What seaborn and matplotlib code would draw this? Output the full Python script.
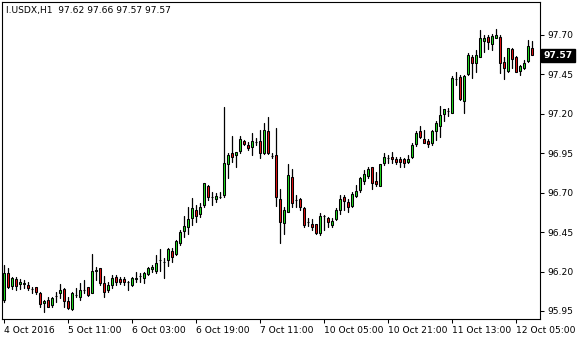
import numpy as np
import pandas as pd
import matplotlib
matplotlib.use("Agg")
import matplotlib.pyplot as plt
import matplotlib.transforms as mtransforms
import seaborn as sns

symbol = "I.USDX,H1"
header_values = [97.62, 97.66, 97.57, 97.57]

open_ = [96.020, 96.191, 96.108, 96.153, 96.121, 96.121, 96.115, 96.089, 96.102, 96.064,
         96.001, 96.020, 95.988, 96.045, 96.064, 96.089, 96.013, 95.963, 96.051, 96.039,
         96.083, 96.102, 96.064, 96.204, 96.223, 96.128, 96.083, 96.115, 96.166, 96.153,
         96.153, 96.134, 96.115, 96.153, 96.172, 96.159, 96.185, 96.216, 96.204, 96.273,
         96.261, 96.273, 96.330, 96.311, 96.381, 96.457, 96.483, 96.540, 96.590, 96.565,
         96.622, 96.743, 96.673, 96.660, 96.673, 96.686, 96.882, 96.952, 96.939, 96.965,
         97.028, 97.003, 96.990, 97.022, 97.028, 96.952, 97.091, 96.933, 96.939, 96.660,
         96.508, 96.578, 96.800, 96.654, 96.660, 96.603, 96.514, 96.502, 96.502, 96.445,
         96.552, 96.540, 96.495, 96.533, 96.590, 96.673, 96.641, 96.616, 96.679, 96.717,
         96.774, 96.806, 96.863, 96.774, 96.743, 96.888, 96.920, 96.926, 96.914, 96.914,
         96.914, 96.895, 96.926, 97.009, 97.091, 97.041, 97.028, 97.015, 97.091, 97.123,
         97.199, 97.218, 97.205, 97.421, 97.434, 97.282, 97.453, 97.561, 97.522, 97.561,
         97.662, 97.687, 97.643, 97.681, 97.687, 97.529, 97.472, 97.611, 97.561, 97.472,
         97.491, 97.535, 97.620]
high = [96.242, 96.223, 96.166, 96.166, 96.153, 96.147, 96.134, 96.102, 96.102, 96.070,
        96.020, 96.039, 96.039, 96.070, 96.121, 96.096, 96.039, 96.070, 96.096, 96.128,
        96.147, 96.102, 96.311, 96.229, 96.223, 96.172, 96.134, 96.178, 96.178, 96.166,
        96.166, 96.140, 96.166, 96.197, 96.191, 96.197, 96.229, 96.242, 96.305, 96.343,
        96.286, 96.349, 96.349, 96.400, 96.464, 96.552, 96.610, 96.667, 96.622, 96.635,
        96.762, 96.749, 96.705, 96.698, 96.705, 97.244, 96.952, 97.060, 96.958, 97.060,
        97.034, 97.022, 97.079, 97.047, 97.098, 97.142, 97.180, 96.952, 97.110, 96.724,
        96.610, 96.882, 96.850, 96.686, 96.667, 96.610, 96.540, 96.533, 96.502, 96.571,
        96.559, 96.546, 96.540, 96.603, 96.686, 96.686, 96.660, 96.705, 96.749, 96.800,
        96.844, 96.863, 96.863, 96.831, 96.882, 96.952, 96.939, 96.958, 96.926, 96.926,
        96.920, 96.939, 97.015, 97.091, 97.123, 97.098, 97.041, 97.098, 97.155, 97.250,
        97.231, 97.237, 97.440, 97.465, 97.446, 97.446, 97.586, 97.573, 97.605, 97.732,
        97.700, 97.700, 97.706, 97.738, 97.700, 97.561, 97.618, 97.618, 97.567, 97.510,
        97.542, 97.668, 97.660]
low = [96.007, 96.096, 96.089, 96.083, 96.089, 96.096, 96.083, 96.064, 96.058, 95.975,
       95.944, 95.975, 95.975, 96.007, 96.032, 95.975, 95.963, 95.956, 96.039, 96.020,
       96.064, 96.045, 96.064, 96.147, 96.115, 96.039, 96.070, 96.096, 96.115, 96.121,
       96.115, 96.083, 96.108, 96.134, 96.134, 96.128, 96.178, 96.197, 96.191, 96.204,
       96.159, 96.235, 96.261, 96.305, 96.369, 96.419, 96.438, 96.495, 96.514, 96.546,
       96.610, 96.654, 96.622, 96.641, 96.667, 96.673, 96.793, 96.895, 96.863, 96.952,
       97.003, 96.971, 96.939, 97.003, 96.920, 96.946, 96.946, 96.920, 96.616, 96.381,
       96.438, 96.578, 96.610, 96.610, 96.590, 96.483, 96.489, 96.464, 96.438, 96.432,
       96.464, 96.483, 96.483, 96.527, 96.565, 96.590, 96.578, 96.610, 96.673, 96.705,
       96.755, 96.793, 96.724, 96.743, 96.743, 96.876, 96.888, 96.888, 96.882, 96.863,
       96.863, 96.888, 96.920, 96.996, 97.047, 97.015, 96.990, 97.003, 97.034, 97.053,
       97.155, 97.186, 97.205, 97.383, 97.288, 97.205, 97.446, 97.427, 97.465, 97.561,
       97.592, 97.611, 97.605, 97.681, 97.459, 97.421, 97.465, 97.491, 97.465, 97.446,
       97.484, 97.529, 97.570]
close = [96.191, 96.102, 96.159, 96.108, 96.134, 96.128, 96.096, 96.089, 96.070, 95.994,
         96.013, 95.975, 96.032, 96.045, 96.083, 96.013, 95.969, 96.064, 96.051, 96.083,
         96.083, 96.051, 96.204, 96.210, 96.128, 96.070, 96.115, 96.159, 96.134, 96.134,
         96.134, 96.134, 96.159, 96.159, 96.172, 96.191, 96.223, 96.229, 96.254, 96.273,
         96.261, 96.343, 96.292, 96.394, 96.451, 96.489, 96.533, 96.603, 96.552, 96.610,
         96.762, 96.673, 96.673, 96.679, 96.673, 96.888, 96.939, 96.926, 96.958, 97.041,
         97.009, 96.984, 97.028, 97.022, 96.952, 97.098, 96.952, 96.933, 96.673, 96.514,
         96.590, 96.812, 96.635, 96.654, 96.610, 96.495, 96.514, 96.483, 96.445, 96.552,
         96.552, 96.514, 96.521, 96.590, 96.660, 96.648, 96.610, 96.692, 96.711, 96.793,
         96.819, 96.850, 96.762, 96.755, 96.882, 96.926, 96.920, 96.914, 96.895, 96.895,
         96.888, 96.914, 97.003, 97.079, 97.053, 97.015, 97.009, 97.091, 97.142, 97.193,
         97.231, 97.218, 97.427, 97.421, 97.294, 97.440, 97.573, 97.522, 97.573, 97.681,
         97.681, 97.656, 97.694, 97.700, 97.522, 97.491, 97.618, 97.548, 97.465, 97.503,
         97.522, 97.630, 97.570]

tick_labels = ["4 Oct 2016", "5 Oct 11:00", "6 Oct 03:00", "6 Oct 19:00", "7 Oct 11:00",
               "10 Oct 05:00", "10 Oct 21:00", "11 Oct 13:00", "12 Oct 05:00"]
tick_bars = [0, 16, 32, 48, 64, 80, 96, 112, 128]
price_ticks = [95.95, 96.20, 96.45, 96.70, 96.95, 97.20, 97.45, 97.70]
last_price = 97.57

bull_color = "#1fdc1f"
bear_color = "#e01010"

sns.set_style("white")
plt.rcParams["font.family"] = ["DejaVu Sans"]

n = len(close)
bars = np.arange(n)
df = pd.DataFrame({"bar": bars, "open": open_, "high": high, "low": low, "close": close})

wick_df = pd.concat([
    pd.DataFrame({"bar": bars, "price": df["low"]}),
    pd.DataFrame({"bar": bars, "price": df["high"]}),
]).sort_values("bar")

fig = plt.figure(figsize=(5.8, 3.4), dpi=100)
ax = fig.add_axes([2 / 580, 21 / 340, 538 / 580, 317 / 340])

sns.lineplot(data=wick_df, x="bar", y="price", units="bar", estimator=None,
             color="black", linewidth=0.9, ax=ax, legend=False, zorder=2)

body_bottom = np.minimum(df["open"], df["close"])
body_height = np.abs(df["close"] - df["open"])
colors = [bull_color if c > o else (bear_color if c < o else "black")
          for o, c in zip(df["open"], df["close"])]
ax.bar(df["bar"], body_height, bottom=body_bottom, width=0.62, color=colors,
       edgecolor="black", linewidth=0.75, zorder=3)

ax.set_xlim(-0.5, 134)
ax.set_ylim(95.899, 97.909)

ax.set_xticks(tick_bars)
ax.set_xticklabels(tick_labels, ha="left")
ax.set_yticks(price_ticks)
ax.set_yticklabels([f"{p:.2f}" for p in price_ticks])
ax.yaxis.tick_right()
ax.tick_params(axis="both", which="both", direction="out", length=3, width=0.75,
               color="black", labelsize=6.6, labelcolor="black")
ax.tick_params(axis="x", pad=2, bottom=True)
ax.tick_params(axis="y", pad=2, right=True, left=False)
ax.set_xlabel("")
ax.set_ylabel("")
for s in ax.spines.values():
    s.set_visible(True)
    s.set_color("black")
    s.set_linewidth(0.8)

trans = mtransforms.blended_transform_factory(ax.transAxes, ax.transData)
ax.text(1.006, last_price, f"{last_price:.2f}", transform=trans, ha="left", va="center",
        fontsize=6.6, color="white", fontweight="bold",
        bbox=dict(boxstyle="square,pad=0.25", facecolor="black", edgecolor="black"))

fig.text(6 / 580, 1 - 11 / 340,
         symbol + "  " + " ".join(f"{v:.2f}" for v in header_values),
         ha="left", va="center", fontsize=6.6, color="black")

fig.savefig("out.png", dpi=100)
